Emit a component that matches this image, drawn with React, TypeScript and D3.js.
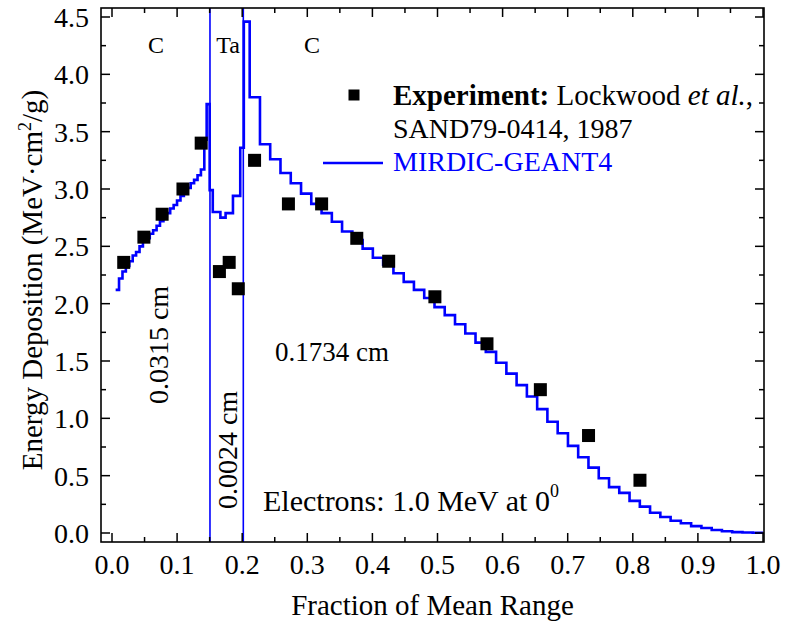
import React from 'react';
import * as d3 from 'd3';

// Axis ticks
const xMajor = [0, 0.1, 0.2, 0.3, 0.4, 0.5, 0.6, 0.7, 0.8, 0.9, 1.0];
const xMajorLabels = ['0.0', '0.1', '0.2', '0.3', '0.4', '0.5', '0.6', '0.7', '0.8', '0.9', '1.0'];
const xMinor = [0.05, 0.15, 0.25, 0.35, 0.45, 0.55, 0.65, 0.75, 0.85, 0.95];
const yMajor = [0, 0.5, 1.0, 1.5, 2.0, 2.5, 3.0, 3.5, 4.0, 4.5];
const yMajorLabels = ['0.0', '0.5', '1.0', '1.5', '2.0', '2.5', '3.0', '3.5', '4.0', '4.5'];
const yMinor = [0.25, 0.75, 1.25, 1.75, 2.25, 2.75, 3.25, 3.75, 4.25];

// MIRDIC-GEANT4 histogram: bin edges (fraction of mean range) and deposited energy per bin
const binEdges = [
  // carbon, front layer
  0.0056, 0.0108, 0.0161, 0.0213, 0.0266, 0.0318, 0.0370, 0.0423, 0.0475, 0.0528,
  0.0580, 0.0632, 0.0685, 0.0737, 0.0790, 0.0842, 0.0894, 0.0947, 0.0999, 0.1052,
  0.1104, 0.1156, 0.1209, 0.1261, 0.1314, 0.1366, 0.1418, 0.1454, 0.1500,
  // tantalum
  0.1548, 0.1665, 0.1745, 0.1858, 0.1970, 0.2025,
  // carbon, back layer
  0.2115, 0.2273, 0.2430, 0.2588, 0.2746, 0.2904, 0.3061, 0.3219, 0.3377, 0.3534,
  0.3692, 0.3850, 0.4007, 0.4165, 0.4323, 0.4481, 0.4638, 0.4796, 0.4954, 0.5111,
  0.5269, 0.5427, 0.5584, 0.5742, 0.5900, 0.6058, 0.6215, 0.6373, 0.6531, 0.6688,
  0.6846, 0.7004, 0.7161, 0.7319, 0.7477, 0.7635, 0.7792, 0.7950, 0.8108, 0.8265,
  0.8423, 0.8581, 0.8738, 0.8896, 0.9054, 0.9212, 0.9369, 0.9527, 0.9685, 0.9842,
  1.0000,
];
const mcDeposition = [
  2.12, 2.22, 2.28, 2.33, 2.37, 2.42, 2.45, 2.50, 2.54, 2.57,
  2.61, 2.64, 2.68, 2.72, 2.76, 2.79, 2.83, 2.86, 2.90, 2.94,
  2.98, 3.01, 3.05, 3.08, 3.12, 3.17, 3.43, 3.74,
  2.99, 2.80, 2.75, 2.79, 2.94, 3.36,
  4.46,
  3.80, 3.39, 3.26, 3.14, 3.05, 2.96, 2.87, 2.79, 2.715, 2.63,
  2.555, 2.48, 2.40, 2.34, 2.265, 2.19, 2.12, 2.05, 1.97, 1.90,
  1.82, 1.74, 1.66, 1.58, 1.485, 1.39, 1.29, 1.19, 1.08, 0.97,
  0.87, 0.76, 0.66, 0.57, 0.477, 0.40, 0.35, 0.28, 0.23, 0.177,
  0.14, 0.107, 0.085, 0.06, 0.044, 0.026, 0.015, 0.008, 0.004, 0.002,
];

// Experiment: Lockwood et al., SAND79-0414
const expFraction = [0.018, 0.049, 0.077, 0.109, 0.137, 0.165, 0.180, 0.194, 0.219, 0.271, 0.322, 0.376, 0.425, 0.496, 0.576, 0.658, 0.732, 0.811];
const expDeposition = [2.36, 2.58, 2.78, 3.00, 3.40, 2.28, 2.36, 2.13, 3.25, 2.87, 2.87, 2.57, 2.37, 2.06, 1.65, 1.25, 0.85, 0.46];

// Layer interfaces C | Ta | C
const layerBoundaries = [0.1505, 0.2017];

const FONT = '"Liberation Serif", "Times New Roman", Times, serif';
const BLUE = '#0000ff';

export default function App() {
  const W = 786;
  const H = 625;
  const frame = { left: 101, right: 764, top: 8, bottom: 542 };
  const x = d3.scaleLinear().domain([0, 1]).range([112, 763]);
  const y = d3.scaleLinear().domain([0, 4.5]).range([533, 17]);

  const stepPoints: [number, number][] = mcDeposition.map((v, i) => [binEdges[i], v]);
  stepPoints.push([binEdges[binEdges.length - 1], mcDeposition[mcDeposition.length - 1]]);
  const stepPath = d3
    .line<[number, number]>()
    .x((d) => x(d[0]))
    .y((d) => y(d[1]))
    .curve(d3.curveStepAfter)(stepPoints) as string;

  const majorLen = 9;
  const minorLen = 5;
  const sq = 13;

  return (
    <svg
      width={W}
      height={H}
      viewBox={`0 0 ${W} ${H}`}
      style={{ position: 'absolute', left: 0, top: 0, background: '#fff' }}
      fontFamily={FONT}
    >
      <rect x={0} y={0} width={W} height={H} fill="#fff" />

      {/* layer interfaces */}
      {layerBoundaries.map((b, i) => (
        <line key={`lb${i}`} x1={x(b)} x2={x(b)} y1={frame.top} y2={frame.bottom} stroke={BLUE} strokeWidth={1.6} />
      ))}

      {/* simulation histogram */}
      <path d={stepPath} fill="none" stroke={BLUE} strokeWidth={2.6} strokeLinejoin="miter" />

      {/* experimental points */}
      {expFraction.map((f, i) => (
        <rect key={`e${i}`} x={x(f) - sq / 2} y={y(expDeposition[i]) - sq / 2} width={sq} height={sq} fill="#000" />
      ))}

      {/* frame */}
      <rect
        x={frame.left}
        y={frame.top}
        width={frame.right - frame.left}
        height={frame.bottom - frame.top}
        fill="none"
        stroke="#000"
        strokeWidth={1.6}
      />

      {/* x ticks (bottom and top) */}
      {xMajor.map((t) => (
        <g key={`xM${t}`}>
          <line x1={x(t)} x2={x(t)} y1={frame.bottom} y2={frame.bottom - majorLen} stroke="#000" strokeWidth={1.5} />
          <line x1={x(t)} x2={x(t)} y1={frame.top} y2={frame.top + majorLen} stroke="#000" strokeWidth={1.5} />
        </g>
      ))}
      {xMinor.map((t) => (
        <g key={`xm${t}`}>
          <line x1={x(t)} x2={x(t)} y1={frame.bottom} y2={frame.bottom - minorLen} stroke="#000" strokeWidth={1.5} />
          <line x1={x(t)} x2={x(t)} y1={frame.top} y2={frame.top + minorLen} stroke="#000" strokeWidth={1.5} />
        </g>
      ))}
      {/* y ticks (left and right) */}
      {yMajor.map((t) => (
        <g key={`yM${t}`}>
          <line x1={frame.left} x2={frame.left + majorLen} y1={y(t)} y2={y(t)} stroke="#000" strokeWidth={1.5} />
          <line x1={frame.right} x2={frame.right - majorLen} y1={y(t)} y2={y(t)} stroke="#000" strokeWidth={1.5} />
        </g>
      ))}
      {yMinor.map((t) => (
        <g key={`ym${t}`}>
          <line x1={frame.left} x2={frame.left + minorLen} y1={y(t)} y2={y(t)} stroke="#000" strokeWidth={1.5} />
          <line x1={frame.right} x2={frame.right - minorLen} y1={y(t)} y2={y(t)} stroke="#000" strokeWidth={1.5} />
        </g>
      ))}

      {/* tick labels */}
      {xMajor.map((t, i) => (
        <text key={`xl${t}`} x={x(t)} y={574} fontSize={28} textAnchor="middle" fill="#000">
          {xMajorLabels[i]}
        </text>
      ))}
      {yMajor.map((t, i) => (
        <text key={`yl${t}`} x={89} y={y(t) + 10} fontSize={28} textAnchor="end" fill="#000">
          {yMajorLabels[i]}
        </text>
      ))}

      {/* axis titles */}
      <text x={(frame.left + frame.right) / 2} y={615} fontSize={29} textAnchor="middle" fill="#000">
        Fraction of Mean Range
      </text>
      <text transform="translate(42,280) rotate(-90)" fontSize={29} textAnchor="middle" fill="#000">
        Energy Deposition (MeV·cm
        <tspan dy={-11} fontSize={18}>2</tspan>
        <tspan dy={11}>/g)</tspan>
      </text>

      {/* layer labels */}
      <text x={156} y={53} fontSize={24} textAnchor="middle">C</text>
      <text x={228} y={53} fontSize={24} textAnchor="middle">Ta</text>
      <text x={312} y={53} fontSize={24} textAnchor="middle">C</text>

      {/* layer thicknesses */}
      <text transform="translate(168,345) rotate(-90)" fontSize={28} textAnchor="middle">0.0315 cm</text>
      <text transform="translate(237,450) rotate(-90)" fontSize={28} textAnchor="middle">0.0024 cm</text>
      <text x={275} y={361} fontSize={27}>0.1734 cm</text>

      {/* beam description */}
      <text x={263} y={511} fontSize={30}>
        Electrons: 1.0 MeV at 0
        <tspan dy={-14} fontSize={18}>0</tspan>
      </text>

      {/* legend */}
      <rect x={354 - 5.5} y={95 - 5.5} width={11} height={11} fill="#000" />
      <text x={393} y={105} fontSize={29}>
        <tspan fontWeight="bold">Experiment:</tspan> Lockwood <tspan fontStyle="italic">et al.</tspan>,
      </text>
      <text x={393} y={138} fontSize={28}>SAND79-0414, 1987</text>
      <line x1={323} x2={383} y1={163} y2={163} stroke={BLUE} strokeWidth={2.6} />
      <text x={393} y={171} fontSize={28} fill={BLUE}>MIRDIC-GEANT4</text>
    </svg>
  );
}
